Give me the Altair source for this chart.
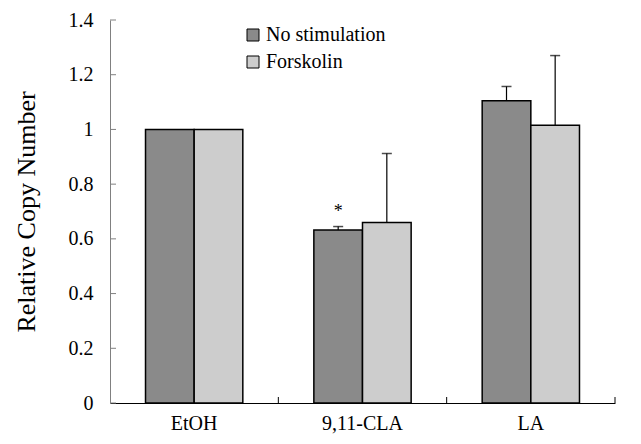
import altair as alt
import pandas as pd

categories = ["EtOH", "9,11-CLA", "LA"]
series = ["No stimulation", "Forskolin"]
no_stim = [1.0, 0.632, 1.105]
forskolin = [1.0, 0.66, 1.015]
no_stim_err_top = [None, 0.645, 1.157]
forskolin_err_top = [None, 0.912, 1.27]
star_cat = "9,11-CLA"
star_series = "No stimulation"
star_y = 0.70
y_ticks = [0, 0.2, 0.4, 0.6, 0.8, 1.0, 1.2, 1.4]
x_bounds = [1, 2, 3]

colors = ["#8a8a8a", "#cdcdcd"]
FONT = "Liberation Serif"

rows = []
for i, c in enumerate(categories):
    rows.append({"cat": c, "series": series[0], "value": no_stim[i], "err": no_stim_err_top[i]})
    rows.append({"cat": c, "series": series[1], "value": forskolin[i], "err": forskolin_err_top[i]})
df = pd.DataFrame(rows)
df_err = df[df["err"].notna()].copy()
df_star = pd.DataFrame([{"cat": star_cat, "series": star_series, "y": star_y, "t": "*"}])
df_yt = pd.DataFrame({"v": y_ticks})
df_xt = pd.DataFrame({"p": x_bounds})

W, H = 505, 383

x_enc = alt.X("cat:N", sort=categories,
              scale=alt.Scale(paddingInner=0, paddingOuter=0),
              axis=alt.Axis(title=None, labelAngle=0, labelFont=FONT, labelFontSize=20,
                            labelColor="black", labelPadding=10, ticks=False,
                            domainColor="black", domainWidth=1.2))
xo_enc = alt.XOffset("series:N", sort=series,
                     scale=alt.Scale(paddingInner=0, paddingOuter=0.73))
y_scale = alt.Scale(domain=[0, 1.4], nice=False)

bars = alt.Chart(df).mark_bar(stroke="black", strokeWidth=1.5).encode(
    x=x_enc,
    xOffset=xo_enc,
    y=alt.Y("value:Q", scale=y_scale,
            axis=alt.Axis(title="Relative Copy Number", values=y_ticks, format="~g",
                          labelFont=FONT, labelFontSize=20, labelColor="black",
                          labelPadding=17, ticks=False, domainColor="#808080",
                          titleFont=FONT, titleFontSize=26, titleFontWeight="normal",
                          titleColor="black", titlePadding=29, grid=False)),
    fill=alt.Fill("series:N", sort=series,
                  scale=alt.Scale(domain=series, range=colors),
                  legend=alt.Legend(title=None, orient="none", legendX=133, legendY=5,
                                    labelFont=FONT, labelFontSize=20, labelColor="black",
                                    symbolType="square", symbolSize=144,
                                    symbolStrokeColor="black", symbolStrokeWidth=1,
                                    labelOffset=3, rowPadding=7, padding=0,
                                    symbolOpacity=1)),
)

err_rule = alt.Chart(df_err).mark_rule(color="black", strokeWidth=1.2).encode(
    x=alt.X("cat:N", sort=categories),
    xOffset=alt.XOffset("series:N", sort=series),
    y="value:Q",
    y2="err:Q",
)

err_cap = alt.Chart(df_err).mark_tick(color="black", thickness=1.5, size=10).encode(
    x=alt.X("cat:N", sort=categories),
    xOffset=alt.XOffset("series:N", sort=series),
    y="err:Q",
)

star = alt.Chart(df_star).mark_text(font=FONT, fontSize=18, color="black",
                                    baseline="middle").encode(
    x=alt.X("cat:N", sort=categories),
    xOffset=alt.XOffset("series:N", sort=series),
    y="y:Q",
    text="t:N",
)

ytick = alt.Chart(df_yt).mark_rule(color="#808080", strokeWidth=1).encode(
    y="v:Q",
    x=alt.value(0),
    x2=alt.value(6),
)

xtick = alt.Chart(df_xt).mark_rule(color="black", strokeWidth=1).encode(
    x=alt.X("p:Q", scale=alt.Scale(domain=[0, 3]), axis=None),
    y=alt.value(H),
    y2=alt.value(H - 6),
)

main = alt.layer(bars, err_rule, err_cap, star, ytick)

chart = alt.layer(main, xtick).resolve_scale(
    x="independent"
).properties(
    width=W, height=H,
    autosize=alt.AutoSizeParams(type="none"),
    padding={"left": 102, "top": 12, "right": 18, "bottom": 33},
    background="white",
).configure_view(stroke=None)

chart.save("out.html", embed_options={"renderer": "svg", "actions": False})
